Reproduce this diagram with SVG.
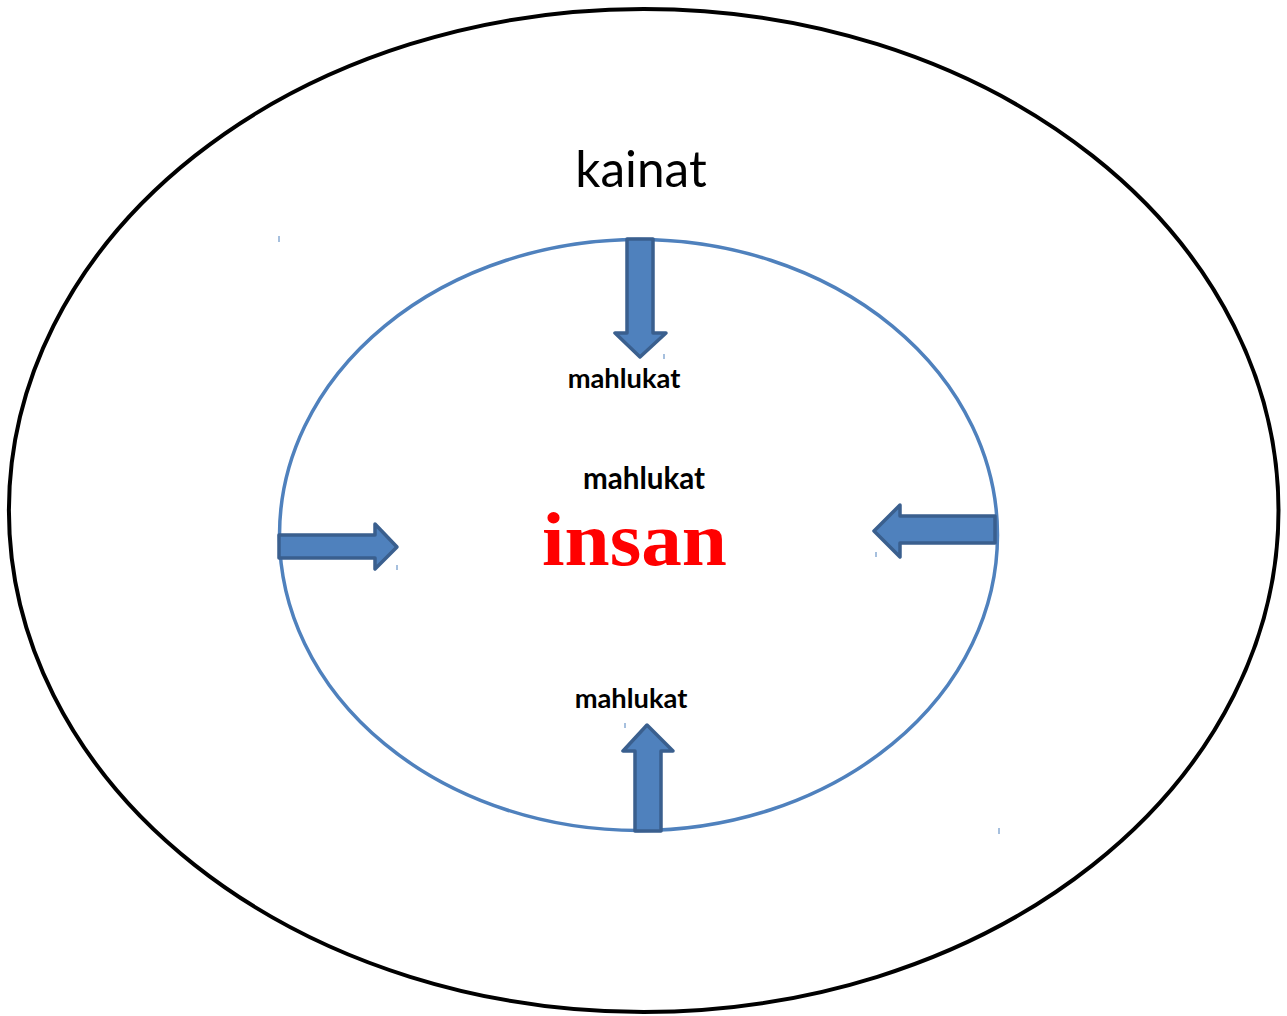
<svg xmlns="http://www.w3.org/2000/svg" width="1287" height="1016" viewBox="0 0 1287 1016">
<style>
.arrow{fill:#4F81BD;stroke:#3A5F8E;stroke-width:3.5;stroke-linejoin:round}
.lbl{font-family:Lato,"Open Sans","Liberation Sans",sans-serif;font-weight:bold;font-size:27.3px;fill:#000}
.tick{stroke:#4F81BD;stroke-width:1}
</style>
<rect width="1287" height="1016" fill="#fff"/>
<g id="outer">
<ellipse cx="643.7" cy="510.5" rx="634.8" ry="501.5" fill="none" stroke="#000" stroke-width="4"/>
<text x="641" y="187" text-anchor="middle" font-family="Lato,'Open Sans','Liberation Sans',sans-serif" font-size="49.5" fill="#000">kainat</text>
</g>
<g id="inner">
<ellipse cx="638.5" cy="535" rx="359" ry="295.5" fill="none" stroke="#4F81BD" stroke-width="3.5"/>
</g>
<g id="center">
<text class="lbl" x="644" y="489" text-anchor="middle" style="font-size:29.6px">mahlukat</text>
<text x="634.5" y="565" text-anchor="middle" font-family="'Liberation Serif','DejaVu Serif',serif" font-weight="bold" font-size="77" fill="#FF0000" textLength="185" lengthAdjust="spacingAndGlyphs">insan</text>
</g>
<g id="label-top"><text class="lbl" x="624" y="388" text-anchor="middle">mahlukat</text></g>
<g id="label-bottom"><text class="lbl" x="631" y="708" text-anchor="middle">mahlukat</text></g>
<g id="connectors">
<path id="arrow-top" class="arrow" d="M627,239 L653,239 L653,333 L666,333 L640,357 L615,333 L627,333 Z"/>
<path id="arrow-left" class="arrow" d="M279,535 L375,535 L375,524 L397,547 L375,569 L375,558 L279,558 Z"/>
<path id="arrow-right" class="arrow" d="M995,516 L900,516 L900,505 L874,531 L900,557 L900,543 L995,543 Z"/>
<path id="arrow-bottom" class="arrow" d="M635,831 L661,831 L661,751 L673,751 L647,725 L623,751 L635,751 Z"/>
</g>
<g id="ticks">
<line class="tick" x1="279" y1="236" x2="279" y2="242"/>
<line class="tick" x1="664" y1="354" x2="664" y2="359"/>
<line class="tick" x1="397" y1="565" x2="397" y2="570"/>
<line class="tick" x1="876" y1="552" x2="876" y2="557"/>
<line class="tick" x1="625" y1="723" x2="625" y2="728"/>
<line class="tick" x1="999" y1="828" x2="999" y2="834"/>
</g>
</svg>
